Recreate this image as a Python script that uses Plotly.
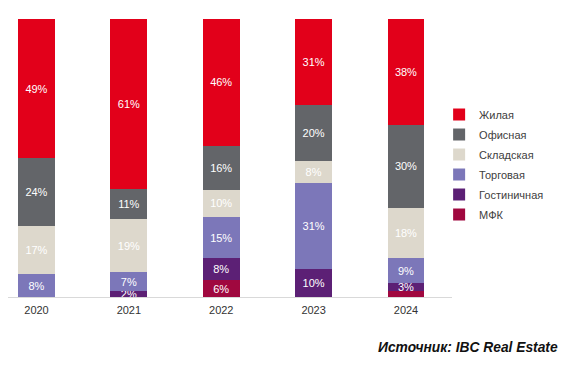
import plotly.graph_objects as go

years = ["2020", "2021", "2022", "2023", "2024"]
series_names = ["Жилая", "Офисная", "Складская", "Торговая", "Гостиничная", "МФК"]
zhilaya = [49, 61, 46, 31, 38]
ofisnaya = [24, 11, 16, 20, 30]
skladskaya = [17, 19, 10, 8, 18]
torgovaya = [8, 7, 15, 31, 9]
gostinichnaya = [0, 2, 8, 10, 3]
mfk = [0, 0, 6, 0, 2]
mfk_labels = ["", "", "6%", "", ""]

colors = ["#E2001A", "#636569", "#DDD8CC", "#7C77B9", "#5C2075", "#A0083F"]
values = [zhilaya, ofisnaya, skladskaya, torgovaya, gostinichnaya, mfk]

fig = go.Figure()
# stack from bottom: MFK, Гостиничная, Торговая, Складская, Офисная, Жилая
order = [5, 4, 3, 2, 1, 0]
for i in order:
    vals = values[i]
    if i == 5:
        txt = mfk_labels
    else:
        txt = [f"{v}%" if v > 0 else "" for v in vals]
    fig.add_trace(go.Bar(
        x=years, y=vals, name=series_names[i], legendgroup=series_names[i],
        legendrank=i + 1,
        marker=dict(color=colors[i], line=dict(width=0)),
        text=txt, textposition="inside", insidetextanchor="middle",
        textangle=0, textfont=dict(color="white", size=11, family="Liberation Sans, Arial, sans-serif"),
        hoverinfo="skip",
    ))

fig.update_layout(
    barmode="stack", barnorm="percent", bargap=0.6,
    width=566, height=361,
    margin=dict(l=0, r=122, t=11, b=72, autoexpand=False),
    plot_bgcolor="white", paper_bgcolor="white",
    font=dict(family="Liberation Sans, Arial, sans-serif", size=11, color="#404040"),
    uniformtext=dict(mode="show", minsize=11),
    legend=dict(
        x=0.971, xanchor="left", y=0.4766, yanchor="middle",
        traceorder="grouped",
        font=dict(size=11, color="#404040"),
        itemwidth=30, tracegroupgap=1,
        bgcolor="rgba(0,0,0,0)",
    ),
    xaxis=dict(
        type="category", range=[-0.3085, 4.498],
        showline=True, linecolor="#D9D9D9", linewidth=1,
        ticks="", showgrid=False, ticklabelstandoff=3,
        tickfont=dict(size=11, color="#333333"),
    ),
    yaxis=dict(range=[0, 100], visible=False, showgrid=False),
    annotations=[dict(
        text="<b><i>Источник: IBC Real Estate</i></b>",
        xref="paper", yref="paper", x=1.2433, y=-0.18,
        xanchor="right", yanchor="middle", showarrow=False,
        font=dict(size=13.8, color="#111111", family="Liberation Sans, Arial, sans-serif"),
    )],
)

fig.write_html("out.html")
